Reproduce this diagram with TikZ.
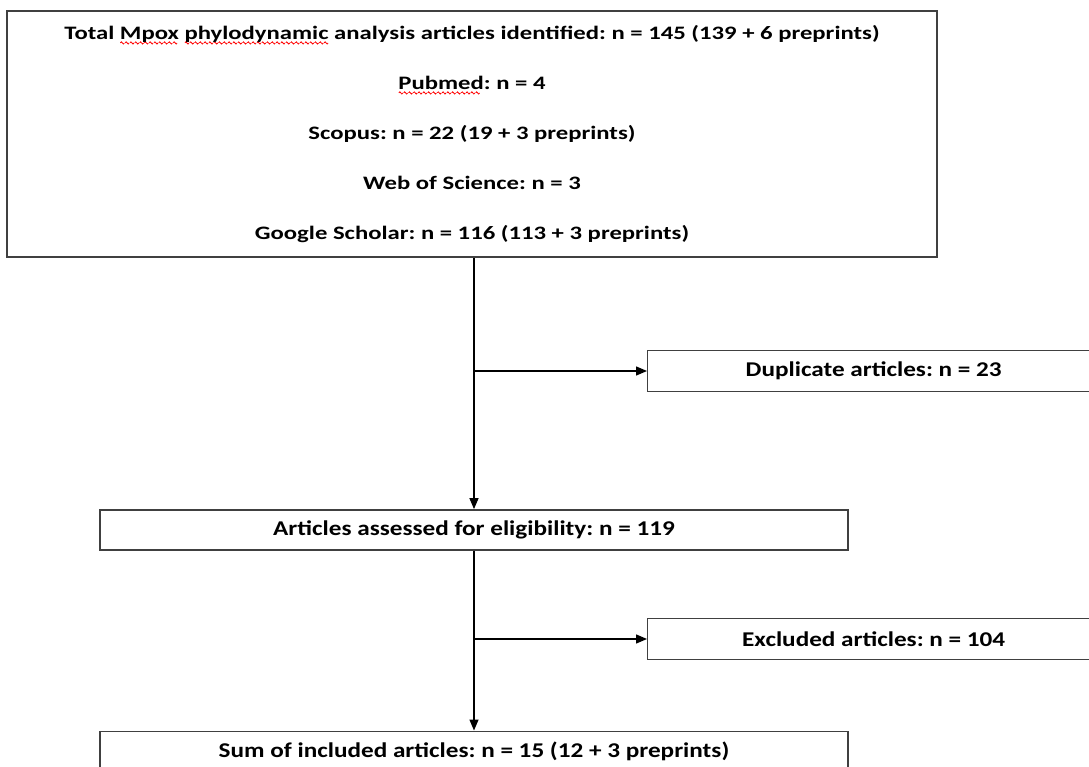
\documentclass[tikz,border=0pt]{standalone}
\usepackage{fontspec}
\setmainfont{Carlito}
\newfontfamily\sourcefont[FakeStretch=1.3]{Carlito}
\newfontfamily\flowfont[FakeStretch=1.2]{Carlito}
\usetikzlibrary{arrows.meta, positioning, calc}
\definecolor{boxgray}{RGB}{64, 64, 64}
\frenchspacing

% red spell-check wave under a word
\newsavebox\wavebox
\newcommand\spellwave[1]{\setbox0\hbox{#1}\rlap{\raisebox{-5pt}{\leaders\copy\wavebox\hskip\wd0}}#1}

\begin{document}
\sbox\wavebox{\begin{pgfpicture}
    \pgfsetstrokecolor{red}\pgfsetlinewidth{0.8pt}
    \pgfpathmoveto{\pgfpoint{0pt}{0pt}}
    \pgfpathsine{\pgfpoint{1pt}{1.1pt}}\pgfpathcosine{\pgfpoint{1pt}{-1.1pt}}
    \pgfpathsine{\pgfpoint{1pt}{-1.1pt}}\pgfpathcosine{\pgfpoint{1pt}{1.1pt}}
    \pgfusepath{stroke}
\end{pgfpicture}}%
\begin{tikzpicture}[
    x=1pt, y=1pt,
    srcbox/.style={rectangle, draw=boxgray, line width=2.2pt, minimum width=930pt, minimum height=246pt, align=center, font=\sourcefont\fontsize{19}{50}\selectfont\bfseries},
    flowbox/.style={rectangle, draw=boxgray, line width=1.4pt, minimum width=748pt, minimum height=40pt, text centered, font=\flowfont\fontsize{21}{25}\selectfont\bfseries},
    sidebox/.style={rectangle, draw=boxgray, line width=1.4pt, minimum width=452pt, minimum height=41pt, anchor=west, text centered, font=\flowfont\fontsize{21}{25}\selectfont\bfseries},
    arrow/.style={line width=1.4pt, -{Triangle[length=11pt, width=9pt]}}
]
\useasboundingbox (0,0) rectangle (1089,-767);
\clip (0,0) rectangle (1089,-767);

% Search sources
\node[srcbox] (sources) at (472,-134) {
    Total \spellwave{Mpox} \spellwave{phylodynamic} analysis articles identified: n = 145 (139 + 6 preprints)\\
    \spellwave{Pubmed}: n = 4\\
    Scopus: n = 22 (19 + 3 preprints)\\
    Web of Science: n = 3\\
    Google Scholar: n = 116 (113 + 3 preprints)
};

% Screening
\node[flowbox, below=251pt of sources, xshift=2pt] (eligible) {Articles assessed for eligibility: n = 119};
\node[flowbox, below=180pt of eligible] (included) {Sum of included articles: n = 15 (12 + 3 preprints)};

% Removed articles
\node[sidebox] (duplicates) at (647,-371) {Duplicate articles: n = 23};
\node[sidebox] (excluded) at (647,-639) {Excluded articles: n = 104};

% Arrows
\draw[arrow] (sources.south -| eligible.north) -- (eligible.north);
\draw[arrow] (eligible.south) -- (included.north);
\draw[arrow] (eligible.north |- duplicates.west) -- (duplicates.west);
\draw[arrow] (eligible.south |- excluded.west) -- (excluded.west);

\end{tikzpicture}
\end{document}
